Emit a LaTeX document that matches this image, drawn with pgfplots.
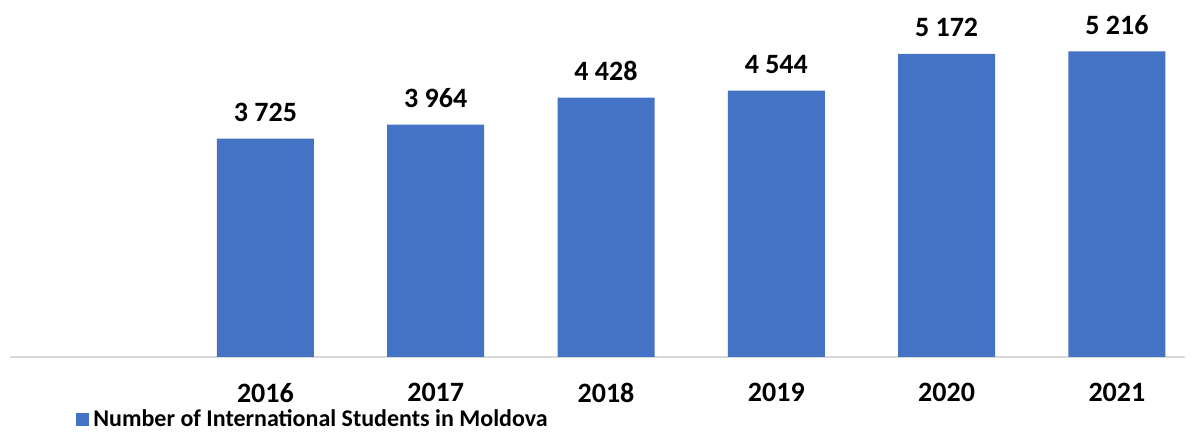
\documentclass[border=0pt]{standalone}
\usepackage{pgfplots}
\pgfplotsset{compat=1.18}
\usepackage{fontspec}
\setmainfont{Carlito}
\definecolor{barblue}{HTML}{4472C4}
\definecolor{axisgrey}{HTML}{D9D9D9}

\begin{document}
\begin{tikzpicture}
\useasboundingbox (0,0) rectangle (596pt,216pt);
\begin{axis}[
  at={(5pt,37.5pt)}, anchor=south west,
  scale only axis,
  width=587.5pt, height=175.8pt,
  ybar, bar width=48.5pt,
  xmin=-0.5, xmax=6.4,
  ymin=0, ymax=6000,
  axis x line*=bottom,
  axis y line=none,
  x axis line style={axisgrey, line width=1pt, -},
  xtick={1,...,6},
  xticklabels={2016,2017,2018,2019,2020,2021},
  xtick style={draw=none},
  xticklabel style={font=\fontsize{14}{16}\selectfont\bfseries, yshift=-5.5pt},
  /pgf/number format/assume math mode=true,
  nodes near coords={\pgfmathprintnumber[1000 sep={\ }]{\pgfplotspointmeta}},
  nodes near coords style={font=\fontsize{14}{16}\selectfont\bfseries, yshift=5pt},
  clip=false,
  legend style={at={(0,0)}, anchor=west, xshift=30pt, yshift=-31.5pt,
    draw=none, fill=none, font=\fontsize{12}{14}\selectfont\bfseries},
  legend image code/.code={\fill[barblue] (0pt,-3.25pt) rectangle (6.5pt,3.25pt);},
]
\addplot[fill=barblue, draw=none] coordinates {
  (1,3725) (2,3964) (3,4428) (4,4544) (5,5172) (6,5216)
};
\addlegendentry{Number of International Students in Moldova}
\end{axis}
\end{tikzpicture}
\end{document}
